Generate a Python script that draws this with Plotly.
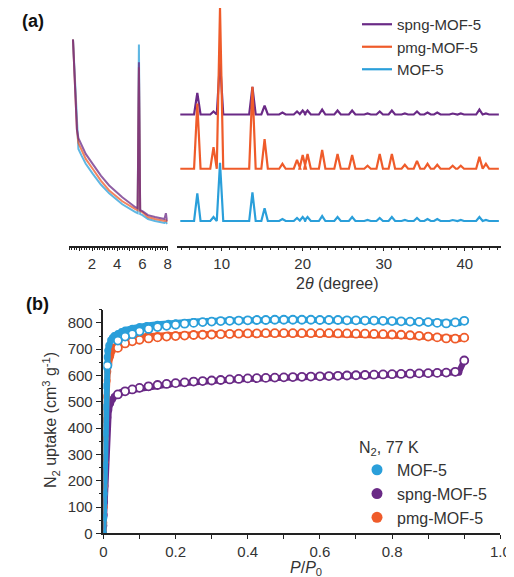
import plotly.graph_objects as go

FONT = "Liberation Sans, Arial, sans-serif"
C_SPNG = "#6A2A86"
C_PMG = "#EF5B2A"
C_MOF = "#2A9FDA"

# ---------------- (a) PXRD data ----------------
# low-angle window (2theta, intensity a.u.)
LOW_X = [0.49, 0.6, 0.67, 0.75, 0.8, 0.92, 1.18, 1.5, 2.05, 2.7, 3.36, 4.4, 5.44, 5.62, 5.72, 5.82, 6.0, 6.44, 7.0, 7.75, 7.86, 7.98]
LOW_MOF = [209, 180, 158, 135, 118, 98, 91, 83, 73, 62, 53, 42, 34, 33, 204, 32, 31, 27, 25, 23, 24, 22]
LOW_PMG = [209, 180, 158, 135, 118, 104, 96, 88, 78, 66, 56, 45, 37, 36, 181, 35, 34, 29, 27, 25, 26, 24]
LOW_SPNG = [209, 180, 158, 135, 118, 109, 101, 93, 83, 71, 61, 49, 39, 38, 186, 36, 35, 31, 29, 27, 33, 25]

# wide-angle window: peak positions and heights above each baseline
PEAK_POS = [7.0, 9.0, 9.8, 13.8, 15.3, 17.5, 19.3, 20.0, 20.6, 22.4, 24.3, 26.1, 28.0, 29.5, 31.0, 32.6, 34.1, 35.4, 36.6, 38.5, 39.5, 41.8, 42.6]
H_MOF = [28, 4, 59, 29, 13, 2, 3, 4, 4, 5, 4, 4, 1, 3, 4, 1, 3, 2, 2, 1, 1, 4, 1]
H_PMG = [66, 22, 163, 83, 30, 5, 9, 14, 15, 19, 15, 14, 3, 15, 15, 4, 8, 5, 4, 3, 3, 12, 5]
H_SPNG = [22, 3, 55, 28, 9, 2, 3, 4, 4, 5, 4, 4, 1, 3, 4, 1, 3, 2, 2, 1, 1, 5, 1]
BASE = {"MOF-5": 25, "pmg-MOF-5": 78, "spng-MOF-5": 133}
X_START, X_END = 4.9, 44.2

# ---------------- (b) N2 isotherms ----------------
P_ADS = [0.0, 0.001, 0.002, 0.003, 0.004, 0.005, 0.006, 0.008, 0.01, 0.012, 0.015, 0.02, 0.025, 0.03, 0.04, 0.05, 0.06, 0.08, 0.1, 0.12, 0.15, 0.18, 0.2, 0.25, 0.3, 0.35, 0.4, 0.45, 0.5, 0.55, 0.6, 0.65, 0.7, 0.75, 0.8, 0.85, 0.9, 0.95, 0.985, 1.0]
V_ADS_MOF = [0, 60, 150, 260, 380, 480, 560, 630, 670, 695, 715, 735, 745, 752, 760, 767, 773, 780, 786, 790, 795, 799, 801, 805, 808, 810, 811, 812, 812, 812, 811, 810, 809, 808, 806, 804, 802, 800, 801, 806]
V_ADS_PMG = [0, 40, 100, 180, 270, 360, 430, 520, 580, 615, 645, 675, 695, 708, 722, 730, 736, 742, 746, 749, 752, 754, 755, 757, 758, 759, 760, 760, 760, 759, 758, 757, 756, 754, 752, 749, 746, 742, 740, 742]
V_ADS_SPNG = [0, 30, 70, 120, 180, 240, 290, 360, 410, 440, 470, 495, 510, 520, 530, 536, 540, 545, 550, 555, 561, 566, 569, 575, 580, 584, 587, 590, 592, 594, 596, 598, 600, 601, 603, 604, 606, 608, 612, 657]

P_DES = [1.0, 0.975, 0.95, 0.925, 0.9, 0.875, 0.85, 0.825, 0.8, 0.775, 0.75, 0.725, 0.7, 0.675, 0.65, 0.625, 0.6, 0.575, 0.55, 0.525, 0.5, 0.475, 0.45, 0.425, 0.4, 0.375, 0.35, 0.325, 0.3, 0.275, 0.25, 0.225, 0.2, 0.175, 0.15, 0.125, 0.1, 0.08, 0.06, 0.04, 0.011]
V_DES_MOF = [808, 802, 798, 800, 803, 804, 805, 806, 807, 808, 809, 809, 810, 810, 811, 811, 811, 812, 812, 812, 812, 812, 811, 811, 810, 809, 808, 807, 805, 803, 800, 797, 793, 789, 784, 777, 768, 757, 748, 733, 638]
V_DES_PMG = [744, 740, 741, 745, 748, 751, 753, 755, 756, 757, 758, 759, 759, 760, 760, 761, 761, 761, 761, 761, 761, 761, 761, 760, 760, 759, 758, 757, 756, 755, 754, 752, 750, 748, 745, 741, 736, 730, 722, 705, None]
V_DES_SPNG = [657, 614, 611, 610, 609, 608, 607, 606, 605, 604, 603, 602, 601, 600, 599, 598, 597, 596, 595, 594, 593, 592, 591, 590, 589, 587, 585, 583, 581, 579, 577, 574, 571, 568, 564, 559, 553, 547, 540, 528, None]

PEAK_HALF = 0.4


def pattern(base, heights):
    xs, ys = [X_START], [base]
    for c, h in zip(PEAK_POS, heights):
        xs += [c - PEAK_HALF, c, c + PEAK_HALF]
        ys += [base, base + h, base]
    xs.append(X_END)
    ys.append(base)
    return xs, ys


fig = go.Figure()

# low-angle traces
for ys, col in [(LOW_MOF, C_MOF), (LOW_PMG, C_PMG), (LOW_SPNG, C_SPNG)]:
    fig.add_trace(go.Scatter(x=LOW_X, y=ys, mode="lines", xaxis="x2", yaxis="y2",
                             line=dict(color=col, width=2), opacity=0.75, showlegend=False,
                             hoverinfo="skip"))

# wide-angle traces (legend order spng, pmg, MOF-5)
for name, hs, col in [("spng-MOF-5", H_SPNG, C_SPNG), ("pmg-MOF-5", H_PMG, C_PMG), ("MOF-5", H_MOF, C_MOF)]:
    xs, ys = pattern(BASE[name], hs)
    fig.add_trace(go.Scatter(x=xs, y=ys, mode="lines", name=name, xaxis="x3", yaxis="y2",
                             line=dict(color=col, width=2.2), legend="legend"))

# isotherms
for vads, vdes, col in [(V_ADS_SPNG, V_DES_SPNG, C_SPNG), (V_ADS_PMG, V_DES_PMG, C_PMG), (V_ADS_MOF, V_DES_MOF, C_MOF)]:
    fig.add_trace(go.Scatter(x=P_ADS, y=vads, mode="lines+markers", xaxis="x", yaxis="y",
                             line=dict(color=col, width=6), marker=dict(color=col, size=7),
                             showlegend=False))
    fig.add_trace(go.Scatter(x=P_DES, y=vdes, mode="markers", xaxis="x", yaxis="y",
                             marker=dict(color="white", size=8, line=dict(color=col, width=1.8)),
                             showlegend=False))

# legend entries for panel (b)
for name, col in [("MOF-5", C_MOF), ("spng-MOF-5", C_SPNG), ("pmg-MOF-5", C_PMG)]:
    fig.add_trace(go.Scatter(x=[None], y=[None], mode="markers", name=name,
                             marker=dict(color=col, size=11), legend="legend2"))

W, H = 514, 577
axis_common = dict(showline=True, linecolor="#222", linewidth=1.5, ticks="outside",
                   tickcolor="#222", tickwidth=1.2, showgrid=False, zeroline=False,
                   tickfont=dict(family=FONT, size=15, color="#333"))

fig.update_layout(
    width=W, height=H, margin=dict(l=0, r=0, t=0, b=0),
    paper_bgcolor="white", plot_bgcolor="white",
    font=dict(family=FONT, color="#333"),
    xaxis2=dict(domain=[58.3 / W, 160 / W], range=[0.15, 8], anchor="y2",
                tickvals=[1, 2, 3, 4, 5, 6, 7, 8], ticktext=["", "2", "", "4", "", "6", "", "8"],
                ticklen=4, minor=dict(dtick=0.2, ticklen=3, ticks="outside", tickcolor="#222"),
                **axis_common),
    xaxis3=dict(domain=[170 / W, 503 / W], range=[4.54, 44.5], anchor="y2",
                tickvals=[10, 20, 30, 40], ticklen=4,
                minor=dict(dtick=1, ticklen=3, ticks="outside", tickcolor="#222"),
                **axis_common),
    yaxis2=dict(domain=[1 - 241 / H, 1], range=[0, 241], visible=False, anchor="x3"),
    xaxis=dict(domain=[94 / W, 502 / W], range=[0, 1.1], anchor="y",
               tickvals=[0, 0.2, 0.4, 0.6, 0.8, 1.1], ticktext=["0", "0.2", "0.4", "0.6", "0.8", "1.0"],
               ticklen=4, minor=dict(tickvals=[0.1, 0.3, 0.5, 0.7, 0.9, 1.0], ticklen=4,
                                     ticks="outside", tickcolor="#222"),
               **axis_common),
    yaxis=dict(domain=[(H - 532.7) / H, (H - 306) / H], range=[0, 850], anchor="x",
               tickvals=[0, 100, 200, 300, 400, 500, 600, 700, 800], ticklen=6,
               minor=dict(dtick=50, ticklen=3, ticks="outside", tickcolor="#222"),
               **axis_common),
    legend=dict(x=0.69, y=1.0, xanchor="left", yanchor="top", bgcolor="rgba(0,0,0,0)",
                font=dict(family=FONT, size=15, color="#333"), itemwidth=30, tracegroupgap=0),
    legend2=dict(x=0.69, y=1 - 430 / H, xanchor="left", yanchor="top", bgcolor="rgba(0,0,0,0)",
                 font=dict(family=FONT, size=16, color="#333"), itemwidth=30,
                 title=dict(text="N<sub>2</sub>, 77 K", font=dict(family=FONT, size=16, color="#333"))),
    showlegend=True,
)

ann = [
    dict(text="<b>(a)</b>", x=8 / W, y=1 - 13 / H, xanchor="left", yanchor="middle", font=dict(size=18, color="#111")),
    dict(text="<b>(b)</b>", x=12 / W, y=1 - 300 / H, xanchor="left", yanchor="middle", font=dict(size=18, color="#111")),
    dict(text="2<i>θ</i> (degree)", x=335 / W, y=1 - 279 / H, xanchor="center", yanchor="middle", font=dict(size=16, color="#333")),
    dict(text="<i>P</i>/<i>P</i><sub>0</sub>", x=302 / W, y=1 - 568 / H, xanchor="center", yanchor="middle", font=dict(size=16, color="#333")),
    dict(text="N<sub>2</sub> uptake (cm<sup>3</sup> g<sup>-1</sup>)", x=40 / W, y=1 - 418 / H, textangle=-90,
         xanchor="center", yanchor="middle", font=dict(size=16, color="#333")),
]
for a in ann:
    a.update(xref="paper", yref="paper", showarrow=False)
    a["font"]["family"] = FONT
fig.update_layout(annotations=ann)

fig.write_html("out.html")
